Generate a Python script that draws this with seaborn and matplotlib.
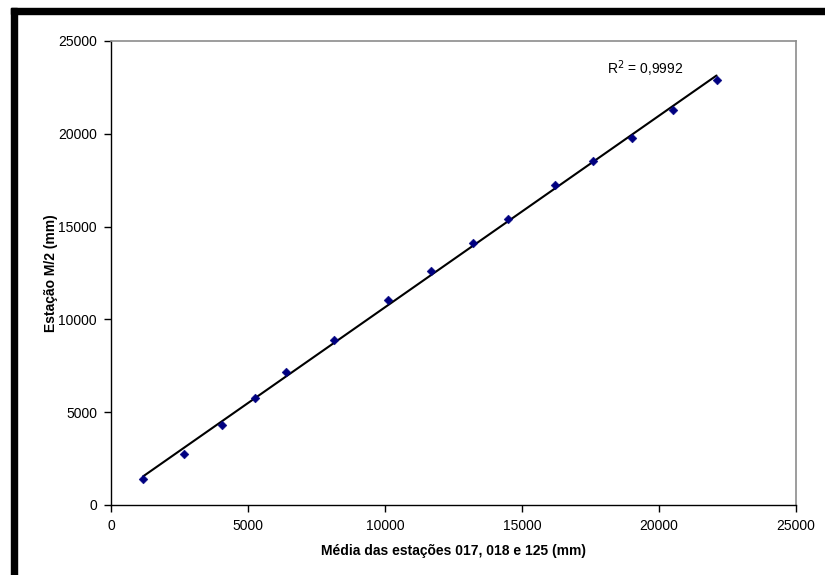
import numpy as np
import pandas as pd
import matplotlib
matplotlib.use("Agg")
import matplotlib.pyplot as plt
from matplotlib.patches import Rectangle
import seaborn as sns

media = [1170, 2660, 4050, 5250, 6390, 8140, 10110, 11690, 13220, 14500, 16200, 17590, 19020, 20500, 22100]
m2 = [1380, 2730, 4330, 5740, 7150, 8900, 11060, 12600, 14120, 15390, 17220, 18520, 19790, 21290, 22900]
x_ticks = [0, 5000, 10000, 15000, 20000, 25000]
y_ticks = [0, 5000, 10000, 15000, 20000, 25000]
r2_label = "R$^2$ = 0,9992"

sns.set_theme(style="white")
plt.rcParams["font.family"] = ["Liberation Sans", "DejaVu Sans"]
plt.rcParams["text.color"] = "black"
plt.rcParams["axes.labelcolor"] = "black"
plt.rcParams["xtick.color"] = "black"
plt.rcParams["ytick.color"] = "black"

df = pd.DataFrame({"x": media, "y": m2})
slope, intercept = np.polyfit(df["x"], df["y"], 1)
fit = pd.DataFrame({"x": [min(media), max(media)]})
fit["y"] = slope * fit["x"] + intercept

fig = plt.figure(figsize=(8.25, 5.75), dpi=100)
ax = fig.add_axes([111/825, 1-505/575, (796-111)/825, (505-41)/575])

sns.lineplot(data=fit, x="x", y="y", ax=ax, color="black", linewidth=1.5, zorder=2)
sns.scatterplot(data=df, x="x", y="y", ax=ax, marker="D", color="#000080",
                edgecolor="#000080", s=20, zorder=3)

ax.set_xlim(0, 25000)
ax.set_ylim(0, 25000)
ax.set_xticks(x_ticks)
ax.set_yticks(y_ticks)
ax.set_xticklabels([str(t) for t in x_ticks], fontsize=10)
ax.set_yticklabels([str(t) for t in y_ticks], fontsize=10)
ax.tick_params(axis="both", direction="out", length=5, width=1, color="black",
               bottom=True, left=True, pad=5)
ax.set_xlabel("Média das estações 017, 018 e 125 (mm)", fontsize=10, fontweight="bold", labelpad=8)
ax.set_ylabel("Estação M/2 (mm)", fontsize=10, fontweight="bold", labelpad=0)

for s in ["left", "bottom"]:
    ax.spines[s].set_color("black")
    ax.spines[s].set_linewidth(1)
for s in ["top", "right"]:
    ax.spines[s].set_color("#8c8c8c")
    ax.spines[s].set_linewidth(1.2)

ax.text(18100, 23500, r2_label, fontsize=10, ha="left", va="center")

# black frame (top and left)
fig.patches.append(Rectangle((11/825, 0), 6/825, 1-8/575, transform=fig.transFigure,
                             color="black", zorder=10))
fig.patches.append(Rectangle((11/825, 1-14/575), 1-11/825, 6/575, transform=fig.transFigure,
                             color="black", zorder=10))

fig.savefig("out.png", dpi=100)
